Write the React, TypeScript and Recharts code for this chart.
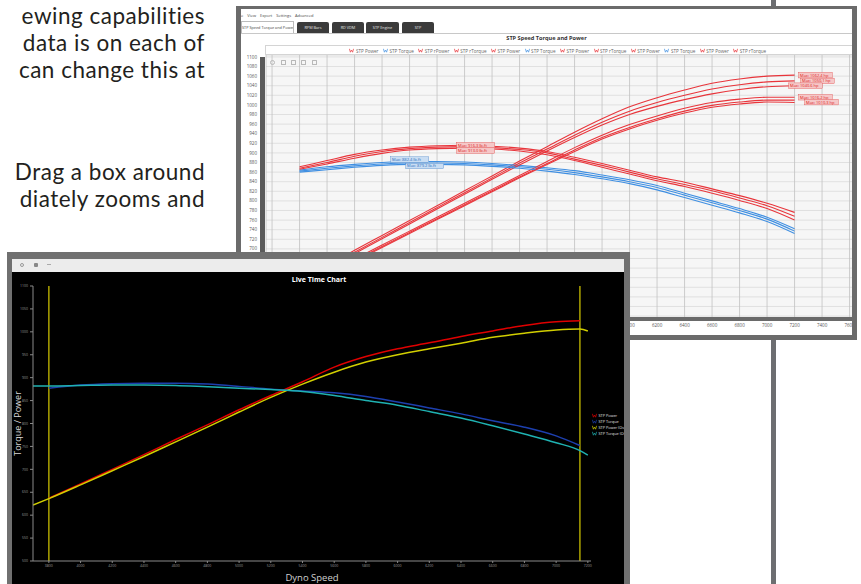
import React from 'react';
import { LineChart, Line, XAxis, YAxis, CartesianGrid, Legend, ReferenceLine } from 'recharts';

const FONT = '"Open Sans", "Noto Sans", sans-serif';
const TEXT_FONT = 'Lato, "Open Sans", sans-serif';

// ---------------- Top chart: STP Speed Torque and Power ----------------
const topRpm = [3600, 3800, 4000, 4200, 4400, 4600, 4800, 5000, 5200, 5400, 5600, 5800, 6000, 6200, 6400, 6600, 6800, 7000, 7200];
const stpPowerA1 = [634, 665, 697, 728, 759, 790, 821, 852, 883, 913, 943, 971, 996, 1015, 1031, 1045, 1054, 1060, 1062];
const stpPowerA2 = [631, 662, 693, 724, 755, 786, 817, 848, 879, 908, 937, 964, 987, 1005, 1020, 1033, 1042, 1048, 1050];
const stpPowerA3 = [628, 659, 690, 721, 752, 783, 814, 845, 875, 904, 932, 958, 980, 997, 1011, 1023, 1032, 1038, 1040];
const stpPowerB1 = [621, 650, 679, 708, 737, 766, 795, 824, 853, 882, 911, 937, 959, 977, 993, 1005, 1012, 1016, 1016];
const stpPowerB2 = [618, 647, 676, 705, 734, 763, 792, 821, 850, 878, 906, 932, 953, 971, 987, 999, 1006, 1010, 1010];
const stpPowerB3 = [616, 645, 674, 703, 732, 761, 790, 819, 848, 876, 903, 929, 950, 968, 983, 995, 1002, 1006, 1005];
const stpRTorque1 = [871, 884, 897, 906, 912, 915, 916, 914, 910, 903, 891, 878, 864, 850, 839, 825, 811, 795, 776];
const stpRTorque2 = [868, 880, 893, 903, 909, 912, 913, 911, 907, 900, 887, 874, 860, 846, 834, 821, 806, 790, 768];
const stpRTorque3 = [866, 877, 889, 899, 906, 909, 910, 908, 904, 896, 884, 870, 856, 842, 830, 816, 801, 784, 760];
const stpTorque1 = [864, 871, 876, 880, 882, 882, 881, 878, 874, 869, 863, 854, 844, 832, 816, 800, 784, 766, 742];
const stpTorque2 = [862, 868, 873, 877, 879, 879, 878, 875, 871, 866, 859, 850, 840, 828, 812, 796, 780, 762, 737];
const stpTorque3 = [860, 865, 870, 874, 876, 876, 875, 872, 868, 862, 855, 846, 836, 823, 807, 791, 775, 757, 732];
const topXTicks = [3400, 3600, 3800, 4000, 4200, 4400, 4600, 4800, 5000, 5200, 5400, 5600, 5800, 6000, 6200, 6400, 6600, 6800, 7000, 7200, 7400, 7600];
const topYTicks = [560, 580, 600, 620, 640, 660, 680, 700, 720, 740, 760, 780, 800, 820, 840, 860, 880, 900, 920, 940, 960, 980, 1000, 1020, 1040, 1060, 1080, 1100];
const maxTexts = ['Max: 1062.4 hp', 'Max: 1050.1 hp', 'Max: 1040.6 hp', 'Max: 1016.2 hp', 'Max: 1010.3 hp', 'Max: 916.3 lb-ft', 'Max: 913.0 lb-ft', 'Max: 882.4 lb-ft', 'Max: 879.2 lb-ft'];
const tabNames = ['RPM Bars', 'RD VDM', 'STP Engine', 'STP'];
const menuItems = ['e', 'View', 'Export', 'Settings', 'Advanced'];

// ---------------- Bottom chart: Live Time Chart ----------------
const liveRpm = [3700, 3800, 4000, 4200, 4400, 4600, 4800, 5000, 5200, 5400, 5600, 5800, 6000, 6200, 6400, 6600, 6800, 7000, 7150, 7200];
const livePower = [null, 637, 668, 700, 732, 765, 797, 830, 861, 891, 923, 946, 963, 976, 990, 1002, 1014, 1022, 1024, null];
const liveTorque = [null, 877, 884, 887, 888, 888, 886, 881, 875, 871, 867, 859, 847, 834, 821, 806, 792, 773, 752, null];
const livePowerOverlay = [622, 636, 666, 697, 728, 760, 792, 825, 857, 886, 912, 934, 950, 963, 975, 988, 997, 1004, 1006, 1002];
const liveTorqueOverlay = [882, 882, 883, 884, 884, 883, 880, 877, 874, 870, 861, 850, 840, 826, 812, 795, 777, 758, 741, 731];
const liveXTicks = [3800, 4000, 4200, 4400, 4600, 4800, 5000, 5200, 5400, 5600, 5800, 6000, 6200, 6400, 6600, 6800, 7000, 7200];
const liveYTicks = [500, 550, 600, 650, 700, 750, 800, 850, 900, 950, 1000, 1050, 1100];
const cursorRpm = [3800, 7150];

const paragraphLines = [
  { text: 'ewing capabilities', top: 5 },
  { text: 'data is on each of', top: 32 },
  { text: 'can change this at', top: 59 },
  { text: 'Drag a box around', top: 161 },
  { text: 'diately zooms and', top: 188 },
];

const topData = topRpm.map((rpm, i) => ({
  rpm,
  pA1: stpPowerA1[i], pA2: stpPowerA2[i], pA3: stpPowerA3[i],
  pB1: stpPowerB1[i], pB2: stpPowerB2[i], pB3: stpPowerB3[i],
  r1: stpRTorque1[i], r2: stpRTorque2[i], r3: stpRTorque3[i],
  t1: stpTorque1[i], t2: stpTorque2[i], t3: stpTorque3[i],
}));

const liveData = liveRpm.map((rpm, i) => ({
  rpm,
  power: livePower[i],
  torque: liveTorque[i],
  powerO: livePowerOverlay[i],
  torqueO: liveTorqueOverlay[i],
}));

const RED = '#e8353b';
const BLUE = '#3f8fe2';

const maxTag = (text: string, idx: number, fg: string, bg: string, dx: number, dy: number) => (props: any) => {
  const { cx, cy, index } = props;
  if (index !== idx || cx == null || cy == null) return <g key={`d${index}`} />;
  const w = text.length * 2.2 + 3;
  return (
    <g key={`d${index}`}>
      <rect x={cx + dx} y={cy + dy - 2.8} width={w} height={5.6} fill={bg} stroke={fg} strokeWidth={0.3} />
      <text x={cx + dx + 1.5} y={cy + dy + 1.5} fontSize={4} fill={fg} fontFamily={FONT}>{text}</text>
    </g>
  );
};

const topSeries = [
  { key: 'pA1', name: 'STP Power', color: RED, dot: maxTag(maxTexts[0], 18, '#d22', '#f5c8c8', 4, 0) },
  { key: 't1', name: 'STP Torque', color: BLUE, dot: maxTag(maxTexts[7], 4, '#2a6fc0', '#c9ddf3', -19, -2) },
  { key: 'pB1', name: 'STP rPower', color: RED, dot: maxTag(maxTexts[3], 18, '#d22', '#f5c8c8', 4, 0) },
  { key: 'r1', name: 'STP rTorque', color: RED, dot: maxTag(maxTexts[5], 6, '#d22', '#f5c8c8', -8, 0) },
  { key: 'pA2', name: 'STP Power', color: RED, dot: maxTag(maxTexts[1], 18, '#d22', '#f5c8c8', 6, 0) },
  { key: 't2', name: 'STP Torque', color: BLUE, dot: maxTag(maxTexts[8], 4, '#2a6fc0', '#c9ddf3', -4, 3) },
  { key: 'pB2', name: 'STP Power', color: RED, dot: maxTag(maxTexts[4], 18, '#d22', '#f5c8c8', 10, 2) },
  { key: 'r2', name: 'STP rTorque', color: RED, dot: maxTag(maxTexts[6], 6, '#d22', '#f5c8c8', -8, 4) },
  { key: 'pA3', name: 'STP Power', color: RED, dot: maxTag(maxTexts[2], 18, '#d22', '#f5c8c8', -6, 0) },
  { key: 't3', name: 'STP Torque', color: BLUE, dot: false },
  { key: 'pB3', name: 'STP Power', color: RED, dot: false },
  { key: 'r3', name: 'STP rTorque', color: RED, dot: false },
];

const liveSeries = [
  { key: 'power', name: 'STP Power', color: '#e00000' },
  { key: 'torque', name: 'STP Torque', color: '#1d3fae' },
  { key: 'powerO', name: 'STP Power (Overlay)', color: '#d2cf00' },
  { key: 'torqueO', name: 'STP Torque (Overlay)', color: '#1fb2b2' },
];

const orderBy = (payload: any[], keys: string[]) =>
  payload.slice().sort((a, b) => keys.indexOf(String(a.dataKey)) - keys.indexOf(String(b.dataKey)));

const LegendIcon = ({ color }: { color: string }) => (
  <svg width={5} height={5} style={{ display: 'block' }}>
    <polyline points="0.4,0.8 1.4,4.2 2.5,2 3.6,4.2 4.6,0.8" fill="none" stroke={color} strokeWidth={0.7} />
  </svg>
);

const TopLegend = (props: any) => {
  const payload = orderBy(props.payload || [], topSeries.map((s) => s.key));
  return (
    <div style={{ display: 'flex', justifyContent: 'center', alignItems: 'center', height: 9, fontFamily: FONT, fontSize: 4.6, color: '#666', whiteSpace: 'nowrap' }}>
      {payload.map((e: any, i: number) => (
        <span key={i} style={{ display: 'inline-flex', alignItems: 'center', marginRight: 4.5 }}>
          <LegendIcon color={e.color} />
          <span style={{ marginLeft: 1.5 }}>{e.value}</span>
        </span>
      ))}
    </div>
  );
};

const LiveLegend = (props: any) => {
  const payload = orderBy(props.payload || [], liveSeries.map((s) => s.key));
  return (
    <div style={{ fontFamily: FONT, fontSize: 3.8, color: '#e0e0e0', whiteSpace: 'nowrap' }}>
      {payload.map((e: any, i: number) => (
        <div key={i} style={{ display: 'flex', alignItems: 'center', height: 6 }}>
          <LegendIcon color={e.color} />
          <span style={{ marginLeft: 1.5 }}>{e.value}</span>
        </div>
      ))}
    </div>
  );
};

export default function App() {
  return (
    <div style={{ position: 'absolute', left: 0, top: 0, width: 861, height: 584, overflow: 'hidden', background: '#ffffff', fontFamily: FONT }}>
      {/* document paragraph text */}
      {paragraphLines.map((l, i) => (
        <div key={i} style={{ position: 'absolute', left: 0, top: l.top, width: 205, textAlign: 'right', whiteSpace: 'nowrap', fontSize: 22.5, letterSpacing: 0.5, lineHeight: '22px', color: '#231f20', fontFamily: TEXT_FONT }}>
          {l.text}
        </div>
      ))}

      {/* vertical page rule */}
      <div style={{ position: 'absolute', left: 771, top: 0, width: 5, height: 584, background: '#6d6e71' }} />

      {/* ---------- Top window ---------- */}
      <div style={{ position: 'absolute', left: 236, top: 6, width: 621, height: 334, background: '#6b6b6b' }}>
        <div style={{ position: 'absolute', left: 5, top: 3, width: 611, height: 326, background: '#ffffff', overflow: 'hidden' }}>
          {/* menu */}
          <div style={{ position: 'absolute', left: 0, top: 4, height: 6, display: 'flex', fontSize: 4, color: '#444', whiteSpace: 'nowrap' }}>
            {menuItems.map((m, i) => (
              <span key={i} style={{ marginRight: 4 }}>{m}</span>
            ))}
          </div>
          {/* tabs */}
          <div style={{ position: 'absolute', left: 0, top: 12, width: 51, height: 11, border: '0.5px solid #bbb', borderBottom: 'none', background: '#fff', fontSize: 3.8, color: '#444', lineHeight: '11px', textAlign: 'center', whiteSpace: 'nowrap', overflow: 'hidden' }}>
            STP Speed Torque and Power
          </div>
          {tabNames.map((t, i) => (
            <div key={t} style={{ position: 'absolute', left: [56, 91, 125, 161][i], top: 13, width: [32, 32, 33, 32][i], height: 11, background: '#3b3b3b', borderRadius: '2px 2px 0 0', fontSize: 3.8, color: '#e8e8e8', lineHeight: '11px', textAlign: 'center', whiteSpace: 'nowrap' }}>
              {t}
            </div>
          ))}
          <div style={{ position: 'absolute', left: 0, top: 24, width: 611, height: 1, background: '#c8c8c8' }} />
          {/* chart title */}
          <div style={{ position: 'absolute', left: 0, top: 25, width: 611, height: 9, lineHeight: '9px', textAlign: 'center', fontSize: 5.6, fontWeight: 700, color: '#333' }}>
            STP Speed Torque and Power
          </div>
          {/* chart */}
          <div style={{ position: 'absolute', left: -3, top: 36 }}>
            <LineChart width={617} height={290} data={topData} margin={{ top: 10, right: 2, left: 0, bottom: 0 }}>
              <CartesianGrid vertical={false} stroke="#dadada" strokeWidth={0.8} fill="#f6f6f6" />
              <CartesianGrid horizontal={false} stroke="#c2c2c2" strokeWidth={0.8} />
              <XAxis type="number" dataKey="rpm" domain={[3356, 7625]} ticks={topXTicks} interval={0} allowDataOverflow height={17} tickSize={5} tickMargin={1} tickLine={false} axisLine={false} tick={{ fontSize: 4.5, fill: '#555', fontFamily: FONT }} />
              <YAxis type="number" domain={[556, 1104]} ticks={topYTicks} interval={0} allowDataOverflow width={28} tickSize={9} tickMargin={0} tickLine={false} axisLine={false} tick={{ fontSize: 4.5, fill: '#555', fontFamily: FONT }} />
              <Legend layout="horizontal" verticalAlign="middle" align="center" content={TopLegend} wrapperStyle={{ left: 27, top: 0, width: 590, height: 10, border: '0.6px solid #d4d4d4', background: '#ffffff', boxSizing: 'border-box' }} />
              {topSeries.map((s) => (
                <Line key={s.key} type="monotone" dataKey={s.key} name={s.name} stroke={s.color} strokeWidth={1.1} dot={s.dot as any} activeDot={false} isAnimationActive={false} />
              ))}
            </LineChart>
          </div>
          {/* toolbar icons */}
          {[29, 40, 50, 60, 71].map((x, i) => (
            <div key={i} style={{ position: 'absolute', left: x, top: 51, width: 5, height: 5, border: '0.6px solid #b8b8b8', borderRadius: i === 0 ? 3 : 0.5, boxSizing: 'border-box' }} />
          ))}
          {/* vertical scrollbar */}
          <div style={{ position: 'absolute', left: 19, top: 48, width: 5, height: 261, background: '#5a5a5a' }} />
          {/* horizontal scrollbar */}
          <div style={{ position: 'absolute', left: 25, top: 308, width: 586, height: 4, background: '#6a6a6a' }} />
        </div>
      </div>

      {/* ---------- Bottom window ---------- */}
      <div style={{ position: 'absolute', left: 7, top: 252, width: 623, height: 332, background: '#707070' }}>
        <div style={{ position: 'absolute', left: 5, top: 7, width: 612, height: 13, background: '#ececec' }}>
          <div style={{ position: 'absolute', left: 8, top: 4, width: 4, height: 4, borderRadius: 2, border: '0.6px solid #999', boxSizing: 'border-box' }} />
          <div style={{ position: 'absolute', left: 22, top: 4, width: 4, height: 4, borderRadius: 1, background: '#888' }} />
          <div style={{ position: 'absolute', left: 35, top: 5, width: 4, height: 2, borderTop: '0.6px solid #aaa' }} />
        </div>
        <div style={{ position: 'absolute', left: 5, top: 20, width: 612, height: 312, background: '#000000', overflow: 'hidden' }}>
          <div style={{ position: 'absolute', left: 0, top: 3, width: 614, height: 10, lineHeight: '10px', textAlign: 'center', fontSize: 7, fontWeight: 700, color: '#ffffff', zIndex: 2 }}>
            Live Time Chart
          </div>
          <LineChart width={612} height={312} data={liveData} margin={{ top: 14, right: 33, left: 0, bottom: 0 }}>
            <XAxis type="number" dataKey="rpm" domain={[3700, 7220]} ticks={liveXTicks} interval={0} allowDataOverflow height={23} tickSize={2} tickMargin={2} stroke="#8a8a8a" tick={{ fontSize: 3.5, fill: '#9a9a9a', fontFamily: FONT }} label={{ value: 'Dyno Speed', position: 'insideBottom', offset: 3, fill: '#d0d0d0', fontSize: 9.5, fontFamily: FONT }} />
            <YAxis type="number" domain={[500, 1100]} ticks={liveYTicks} interval={0} allowDataOverflow width={21} tickSize={3} tickMargin={2} stroke="#8a8a8a" tick={{ fontSize: 3.5, fill: '#9a9a9a', fontFamily: FONT }} label={{ value: 'Torque / Power', angle: -90, position: 'insideLeft', offset: 6, fill: '#d8d8d8', fontSize: 9, fontFamily: FONT, style: { textAnchor: 'middle' } }} />
            <Legend layout="vertical" verticalAlign="middle" align="center" content={LiveLegend} wrapperStyle={{ left: 580, top: 140, width: 45 }} />
            {cursorRpm.map((r) => (
              <ReferenceLine key={r} x={r} stroke="#a39a00" strokeWidth={1.6} />
            ))}
            {liveSeries.map((s) => (
              <Line key={s.key} type="monotone" dataKey={s.key} name={s.name} stroke={s.color} strokeWidth={1.5} dot={false} activeDot={false} isAnimationActive={false} />
            ))}
          </LineChart>
        </div>
      </div>
    </div>
  );
}
